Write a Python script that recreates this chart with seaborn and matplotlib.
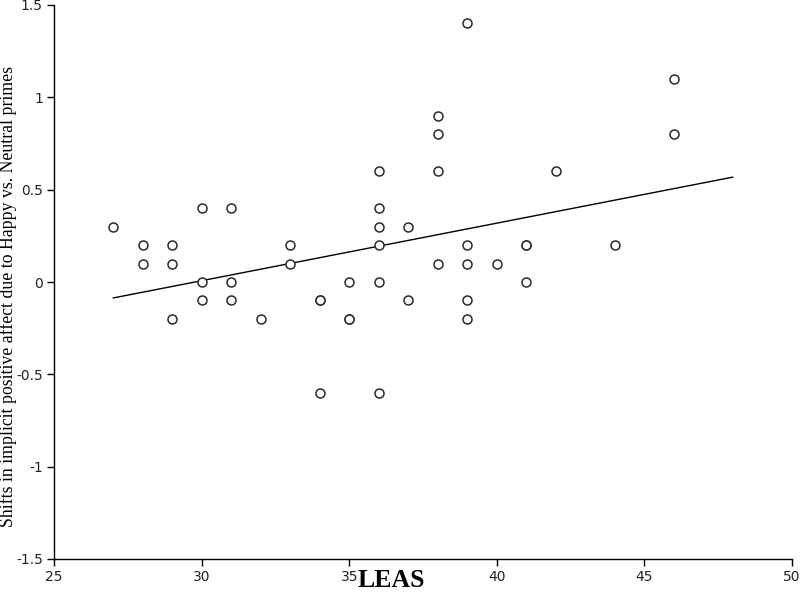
import matplotlib
matplotlib.use('Agg')
import matplotlib.pyplot as plt
import seaborn as sns
import pandas as pd
import numpy as np

# LEAS score and shift in implicit positive affect, one entry per participant
leas = [27,
        28, 28,
        29, 29, 29,
        30, 30, 30,
        31, 31, 31,
        32,
        33, 33,
        34, 34, 34,
        35, 35, 35,
        36, 36, 36, 36, 36, 36,
        37, 37,
        38, 38, 38, 38,
        39, 39, 39, 39, 39,
        40,
        41, 41, 41,
        42,
        44,
        46, 46]
shift = [0.3,
         0.2, 0.1,
         0.2, 0.1, -0.2,
         0.4, 0.0, -0.1,
         0.4, 0.0, -0.1,
         -0.2,
         0.2, 0.1,
         -0.1, -0.1, -0.6,
         0.0, -0.2, -0.2,
         0.6, 0.4, 0.3, 0.2, 0.0, -0.6,
         0.3, -0.1,
         0.9, 0.8, 0.6, 0.1,
         1.4, 0.2, 0.1, -0.1, -0.2,
         0.1,
         0.2, 0.2, 0.0,
         0.6,
         0.2,
         1.1, 0.8]
trend_end = 48
x_ticks = [25, 30, 35, 40, 45, 50]
y_ticks = [-1.5, -1, -0.5, 0, 0.5, 1, 1.5]

df = pd.DataFrame({'leas': leas, 'shift': shift})

# linear trend line (least squares), drawn from the lowest score out to trend_end
slope, intercept = np.polyfit(df['leas'], df['shift'], 1)
trend = pd.DataFrame({'leas': [df['leas'].min(), trend_end]})
trend['shift'] = intercept + slope * trend['leas']

sns.set_style('ticks')
plt.rcParams['axes.unicode_minus'] = False
plt.rcParams['text.color'] = 'black'
plt.rcParams['axes.labelcolor'] = 'black'
plt.rcParams['xtick.color'] = 'black'
plt.rcParams['ytick.color'] = 'black'

fig = plt.figure(figsize=(8, 5.94), dpi=100)
ax = fig.add_axes([54 / 800, 35 / 594, 738 / 800, 554 / 594])

sns.lineplot(data=trend, x='leas', y='shift', color='black', linewidth=1.0, ax=ax)
sns.scatterplot(data=df, x='leas', y='shift', s=42, color='white',
                edgecolor='#2a2a2a', linewidth=1.1, zorder=3, ax=ax)

ax.set_xlim(25, 50)
ax.set_ylim(-1.5, 1.5)
ax.set_xticks(x_ticks)
ax.set_yticks(y_ticks)
ax.set_xticklabels([f'{t:g}' for t in x_ticks], fontsize=10, family='DejaVu Sans')
ax.set_yticklabels([f'{t:g}' for t in y_ticks], fontsize=10, family='DejaVu Sans')
ax.tick_params(direction='out', length=5, width=1, color='black', labelcolor='#222222', pad=3)

for side in ['top', 'right']:
    ax.spines[side].set_visible(False)
for side in ['left', 'bottom']:
    ax.spines[side].set_color('black')
    ax.spines[side].set_linewidth(1)

ax.set_xlabel('LEAS', fontsize=18.5, fontweight='bold', family='Liberation Serif', color='black')
ax.xaxis.set_label_coords(0.457, -0.018)
ax.set_ylabel('Shifts in implicit positive affect due to Happy vs. Neutral primes',
              fontsize=12.8, family='Liberation Serif', color='black')
ax.yaxis.set_label_coords(-0.05, 0.473)

fig.savefig('out.png', dpi=100)
